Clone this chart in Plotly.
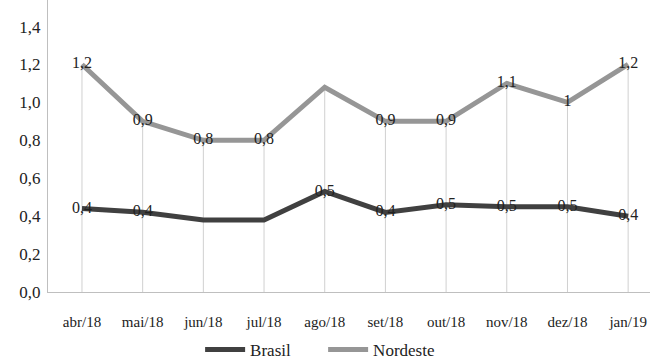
import plotly.graph_objects as go

categories = ["abr/18", "mai/18", "jun/18", "jul/18", "ago/18", "set/18", "out/18", "nov/18", "dez/18", "jan/19"]
brasil = [0.44, 0.42, 0.38, 0.38, 0.53, 0.42, 0.46, 0.45, 0.45, 0.40]
nordeste = [1.2, 0.9, 0.8, 0.8, 1.08, 0.9, 0.9, 1.1, 1.0, 1.2]
brasil_labels = ["0,4", "0,4", "", "", "0,5", "0,4", "0,5", "0,5", "0,5", "0,4"]
nordeste_labels = ["1,2", "0,9", "0,8", "0,8", "", "0,9", "0,9", "1,1", "1", "1,2"]
y_ticks = [0, 0.2, 0.4, 0.6, 0.8, 1.0, 1.2, 1.4]

FONT = "Liberation Serif"
drop_top = [max(a, b) for a, b in zip(brasil, nordeste)]

fig = go.Figure()
# drop lines from the highest point down to the axis
fig.add_trace(go.Scatter(
    x=categories, y=[0] * len(categories), mode="markers",
    marker=dict(size=0.1, color="rgba(0,0,0,0)"),
    error_y=dict(type="data", symmetric=False, array=drop_top,
                 arrayminus=[0] * len(categories), width=0, thickness=1, color="#d0d0d0"),
    showlegend=False, hoverinfo="skip"))
fig.add_trace(go.Scatter(
    x=categories, y=brasil, name="Brasil", mode="lines+text",
    line=dict(color="#404040", width=5),
    text=brasil_labels, textposition="middle center",
    textfont=dict(family=FONT, size=16, color="#222222")))
fig.add_trace(go.Scatter(
    x=categories, y=nordeste, name="Nordeste", mode="lines+text",
    line=dict(color="#969696", width=5),
    text=nordeste_labels, textposition="middle center",
    textfont=dict(family=FONT, size=16, color="#222222")))

fig.update_layout(
    width=650, height=359,
    margin=dict(l=48, r=0, t=0, b=67),
    paper_bgcolor="white", plot_bgcolor="white",
    separators=", ",
    font=dict(family=FONT, color="#222222"),
    showlegend=True,
    legend=dict(orientation="h", x=0.457, xanchor="center",
                yref="container", y=0.025, yanchor="middle",
                font=dict(family=FONT, size=17, color="#222222"),
                itemwidth=40, entrywidth=68, tracegroupgap=0),
)
fig.update_xaxes(
    type="category", range=[-0.56, 9.36], automargin=False,
    showgrid=False, showline=True, linecolor="#bfbfbf", linewidth=1,
    ticks="", tickfont=dict(family=FONT, size=15, color="#222222"),
    ticklabelstandoff=16,
)
fig.update_yaxes(
    range=[0, 1.54], tickvals=y_ticks, tickformat=".1f", automargin=False,
    showgrid=False, zeroline=False, showline=True, linecolor="#bfbfbf", linewidth=1,
    ticks="", tickfont=dict(family=FONT, size=17, color="#222222"),
    ticklabelstandoff=3,
)

fig.write_html("out.html", config={"responsive": False, "displayModeBar": False},
               post_script="document.body.style.margin='0';document.body.style.padding='0';")
